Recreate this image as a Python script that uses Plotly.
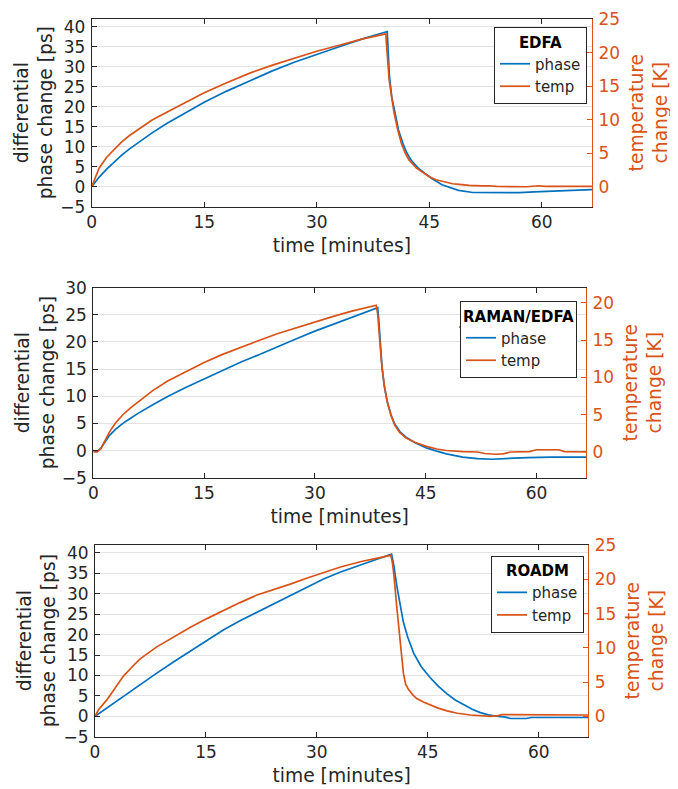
import plotly.graph_objects as go

BLUE = "#0072BD"
ORANGE = "#D95319"
INK = "#262626"
FONT = "DejaVu Sans"

# the page body adds an 8 px margin, so the figure is drawn 8 px in and sized to fit
OFF = 8
W, H = 678 - OFF, 789 - OFF

# ---- EDFA ----
edfa_t_phase = [0, 0.5, 1, 2, 3, 4, 5, 6, 7, 8, 10, 12, 15, 18, 21, 24, 27, 30, 33, 36, 39.4,
                39.55, 39.7, 40.0, 40.4, 40.9, 41.5, 42.0, 42.6, 43.5, 44.6, 45.4, 46.7, 47.8, 48.9,
                50.8, 54, 57, 59, 61.5, 64, 66.7]
edfa_phase = [0, 1.3, 2.4, 4.4, 6.2, 7.9, 9.4, 10.8, 12.1, 13.4, 15.8, 18.0, 21.1, 23.9, 26.5, 28.9, 31.1,
              33.1, 35.0, 36.9, 38.8,
              33.0, 27.5, 22.5, 18.5, 14.2, 10.8, 8.5, 6.6, 4.7, 3.1, 2.0, 0.5, -0.3, -0.9,
              -1.45, -1.55, -1.5, -1.3, -1.06, -0.9, -0.75]
edfa_t_temp = [0, 0.5, 1, 2, 3, 4, 5, 6, 8, 10, 12, 15, 18, 21, 24, 27, 30, 33, 36, 39.2,
               39.45, 39.65, 40.0, 40.3, 40.8, 41.3, 41.8, 42.3, 43.3, 44.3, 45.0, 45.9, 47, 48.1, 49,
               50.3, 52, 53, 54, 56, 58, 59.5, 60.5, 63, 66.7]
edfa_temp = [0, 1.5, 2.8, 4.4, 5.6, 6.7, 7.6, 8.4, 9.9, 11.1, 12.3, 14.0, 15.5, 16.9, 18.1, 19.2, 20.2,
             21.1, 22.0, 22.8,
             19.0, 16.0, 13.3, 11.1, 8.5, 6.4, 5.0, 4.0, 2.8, 2.0, 1.5, 1.05, 0.7, 0.45, 0.35,
             0.2, 0.12, 0.15, 0.05, 0.0, 0.0, 0.15, 0.05, 0.05, 0.05]

# ---- RAMAN/EDFA ----
raman_t_phase = [0, 0.5, 1.0, 1.6, 2.2, 3.0, 4.0, 5.0, 6.0, 8.0, 10, 12.5, 15, 17.5, 20, 22.5, 25, 27.5,
                 30, 32.5, 35, 38.5,
                 38.65, 38.8, 39.1, 39.4, 39.8, 40.3, 40.8, 41.5, 42.4, 43.5, 45.1, 46.5, 47.8, 50, 52,
                 54, 55.5, 57, 58.8, 62, 66.7]
raman_phase = [0, -0.2, 0.4, 1.6, 2.8, 3.9, 5.0, 5.9, 6.8, 8.4, 9.9, 11.6, 13.2, 14.8, 16.3, 17.7, 19.2,
               20.6, 22.0, 23.3, 24.6, 26.3,
               24.0, 21.3, 15.1, 11.8, 9.0, 6.6, 4.9, 3.5, 2.4, 1.5, 0.5, -0.1, -0.6, -1.2, -1.5,
               -1.6, -1.55, -1.4, -1.3, -1.2, -1.2]
raman_t_temp = [0, 0.5, 1.0, 1.6, 2.2, 3.0, 4.0, 5.0, 6.0, 8.0, 10, 12.5, 15, 17.5, 20, 22.5, 25, 27.5,
                30, 32.5, 35, 38.3,
                38.5, 38.7, 39.0, 39.4, 39.8, 40.3, 40.8, 41.5, 42.3, 43.5, 45.1, 46.5, 47.8, 50, 52,
                53, 54.5, 55.5, 56.5, 59, 60, 63, 63.8, 66.7]
raman_temp = [0, 0, 0.4, 1.5, 2.7, 3.9, 5.0, 5.9, 6.7, 8.2, 9.5, 10.8, 12.0, 13.1, 14.1, 15.0, 15.9,
              16.7, 17.5, 18.2, 18.9, 19.7,
              18.5, 16.0, 12.2, 8.9, 6.7, 4.9, 3.6, 2.6, 1.9, 1.3, 0.75, 0.4, 0.2, 0.05, 0.0,
              -0.2, -0.3, -0.25, 0.0, 0.05, 0.3, 0.3, 0.05, 0.0]

# ---- ROADM ----
roadm_t_phase = [0, 1.5, 3.8, 6, 8.3, 10.6, 12.9, 15.2, 17.4, 19.6, 21.9, 24.2, 26.4, 28.7, 30.9, 33.2,
                 36, 38.5, 40.1,
                 40.4, 40.8, 41.2, 41.7, 42.3, 43.1, 44.1, 45.3, 46.4, 47.6, 48.7, 49.8, 51, 52.1, 53.2,
                 54.3, 55.5, 56.2, 58.3, 59, 62, 66.7]
roadm_phase = [0, 1.9, 4.8, 7.7, 10.5, 13.3, 16.0, 18.7, 21.2, 23.4, 25.5, 27.5, 29.5, 31.7, 33.6, 35.3,
               37.2, 38.7, 39.7,
               37.0, 32.0, 27.5, 23.0, 19.3, 15.4, 12.2, 9.5, 7.4, 5.5, 4.0, 2.8, 1.7, 0.9, 0.35,
               0.0, -0.2, -0.55, -0.55, -0.3, -0.3, -0.3]
roadm_t_temp = [0, 0.5, 1.6, 2.7, 3.8, 5, 6.1, 8.3, 10.6, 12.9, 15.2, 17.4, 19.6, 21.9, 24.2, 26.4, 28.7,
                30.9, 33.2, 36, 38.5, 40.0,
                40.2, 40.4, 40.8, 41.3, 41.7, 42.0, 42.4, 43.0, 43.5, 44.4, 45.3, 46.4, 47.6, 49, 50.8,
                52, 53.5, 54.5, 55, 66.7]
roadm_temp = [0, 1.0, 2.4, 4.1, 5.8, 7.2, 8.4, 10.1, 11.6, 13.0, 14.3, 15.5, 16.6, 17.7, 18.5, 19.3, 20.2,
              21.0, 21.8, 22.6, 23.2, 23.5,
              22.5, 20.8, 16.0, 11.1, 6.3, 4.7, 3.9, 3.1, 2.6, 2.1, 1.7, 1.2, 0.8, 0.45, 0.2,
              0.1, 0.0, 0.1, 0.25, 0.2]

x_ticks = [0, 15, 30, 45, 60]

# plot boxes, legend corners and legend title rule measured on the reference (pixels)
panels = [
    dict(title="EDFA", tp=edfa_t_phase, p=edfa_phase, tt=edfa_t_temp, k=edfa_temp,
         yr=[-5, 42], y2r=[-2.97, 25.05], ytk=list(range(-5, 41, 5)), y2tk=list(range(0, 26, 5)),
         box=(91.7, 592, 18.7, 206.7), leg=(587, 27), rule=(494, 579, 53)),
    dict(title="RAMAN/EDFA", tp=raman_t_phase, p=raman_phase, tt=raman_t_temp, k=raman_temp,
         yr=[-5, 30], y2r=[-3.45, 22.05], ytk=list(range(-5, 31, 5)), y2tk=list(range(0, 21, 5)),
         box=(93.3, 586, 287.7, 477.7), leg=(577, 301), rule=(459, 575, 327)),
    dict(title="ROADM", tp=roadm_t_phase, p=roadm_phase, tt=roadm_t_temp, k=roadm_temp,
         yr=[-5, 42], y2r=[-2.97, 25.05], ytk=list(range(-5, 41, 5)), y2tk=list(range(0, 26, 5)),
         box=(95, 588.3, 544.7, 736.7), leg=(584, 555.7), rule=(496, 578, 582)),
]


def px_x(v):
    return (v - OFF) / W


def px_y(v):
    return 1 - (v - OFF) / H


fig = go.Figure()
shapes = []
layout = dict(
    width=W, height=H,
    margin=dict(l=0, r=0, t=0, b=0),
    paper_bgcolor="white", plot_bgcolor="white",
    font=dict(family=FONT, color=INK, size=17),
    showlegend=True,
)

for i, pn in enumerate(panels):
    n = i + 1
    xa = "x" if n == 1 else f"x{n}"
    ya = f"y{2 * n - 1}" if n > 1 else "y"
    yb = f"y{2 * n}"
    lg = "legend" if n == 1 else f"legend{n}"

    fig.add_trace(go.Scatter(x=pn["tp"], y=pn["p"], mode="lines", name="phase",
                             line=dict(color=BLUE, width=1.7), xaxis=xa, yaxis=ya, legend=lg))
    fig.add_trace(go.Scatter(x=pn["tt"], y=pn["k"], mode="lines", name="temp",
                             line=dict(color=ORANGE, width=1.7), xaxis=xa, yaxis=yb, legend=lg))

    x0, x1, y0, y1 = pn["box"]
    xkey = "xaxis" if n == 1 else f"xaxis{n}"
    ykey = "yaxis" if n == 1 else f"yaxis{2 * n - 1}"
    y2key = f"yaxis{2 * n}"

    layout[xkey] = dict(
        domain=[px_x(x0), px_x(x1)], anchor=ya, range=[0, 66.7], tickvals=x_ticks,
        showline=True, linecolor=INK, linewidth=1, mirror="ticks",
        ticks="inside", ticklen=5, tickcolor=INK, showgrid=False, zeroline=False,
        tickfont=dict(size=17, color=INK), automargin=False,
        title=dict(text="time [minutes]", font=dict(size=18.7, color=INK), standoff=7),
    )
    layout[ykey] = dict(
        domain=[px_y(y1), px_y(y0)], anchor=xa, range=pn["yr"], tickvals=pn["ytk"],
        showline=True, linecolor=INK, linewidth=1, ticks="inside", ticklen=5, tickcolor=INK,
        showgrid=True, gridcolor="#e3e3e3", gridwidth=1, zeroline=False,
        tickfont=dict(size=17, color=INK), automargin=False, ticklabelstandoff=2,
        ticklabeloverflow="allow",
        title=dict(text="differential<br>phase change [ps]", font=dict(size=18.7, color=INK), standoff=2),
    )
    layout[y2key] = dict(
        overlaying=ya, anchor=xa, side="right", range=pn["y2r"], tickvals=pn["y2tk"],
        showline=True, linecolor=ORANGE, linewidth=1, ticks="inside", ticklen=5, tickcolor=ORANGE,
        showgrid=False, zeroline=False, automargin=False, ticklabelstandoff=2,
        ticklabeloverflow="allow",
        tickfont=dict(size=17, color=ORANGE),
        title=dict(text="temperature<br>change [K]", font=dict(size=18.7, color=ORANGE), standoff=10),
    )
    lx, ly = pn["leg"]
    layout[lg] = dict(
        x=px_x(lx), y=px_y(ly), xanchor="right", yanchor="top", xref="paper", yref="paper",
        bgcolor="white", bordercolor=INK, borderwidth=1,
        font=dict(size=15, color=INK), itemwidth=30, tracegroupgap=0,
        title=dict(text="<b>%s</b>" % pn["title"], side="top center", font=dict(size=15, color="black")),
    )
    # thin rule under the legend title, as in the MATLAB legend
    rx0, rx1, ry = pn["rule"]
    shapes.append(dict(type="line", xref="paper", yref="paper",
                       x0=px_x(rx0), x1=px_x(rx1), y0=px_y(ry), y1=px_y(ry),
                       line=dict(color=INK, width=1)))

layout["shapes"] = shapes
fig.update_layout(**layout)
fig.write_html("out.html")
